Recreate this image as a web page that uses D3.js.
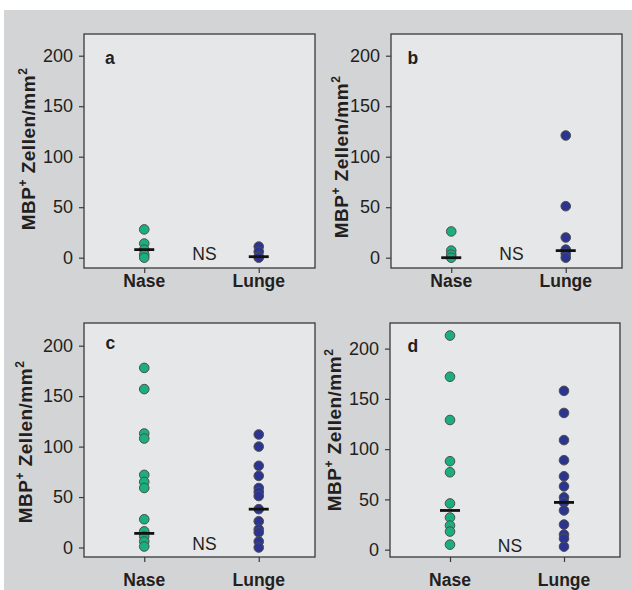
<!DOCTYPE html>
<html>
<head>
<meta charset="utf-8">
<script src="https://cdn.jsdelivr.net/npm/d3@7"></script>
<style>
  body { margin: 0; background: #fff; }
  svg text { font-family: "Liberation Sans", Arial, sans-serif; fill: #231f20; }
</style>
</head>
<body>
<div id="chart"></div>
<script>

// values (MBP+ cells / mm2)
var groups = ["Nase", "Lunge"];
var panelLetters = ["a", "b", "c", "d"];

var naseA = [28, 14, 8, 3, 0];
var lungeA = [11, 6, 1, 0];
var naseB = [26, 7, 3, 0];
var lungeB = [121, 51, 20, 8, 4, 0];
var naseC = [178, 157, 113, 108, 72, 65, 59, 28, 16, 11, 6, 1];
var lungeC = [112, 100, 81, 71, 59, 55, 51, 38, 26, 18, 15, 6, 0];
var naseD = [213, 172, 129, 88, 77, 46, 32, 24, 18, 5];
var lungeD = [158, 136, 109, 89, 73, 63, 52, 47, 39, 25, 15, 11, 3];

// medians as drawn (Nase, Lunge)
var mediansA = [8, 1];
var mediansB = [0, 7];
var mediansC = [14, 38];
var mediansD = [39, 47];

var yTicks = [0, 50, 100, 150, 200];
var sigLabel = "NS";

var colors = { Nase: "#1bb07b", Lunge: "#2b3590" };

// panel frames in page pixels
var layout = [
  { left: 84,  right: 315, top: 34,  bottom: 268, ymin: -10.2, ymax: 221.5, xlabY: 287,   titleX: 35,  titleY: 149, letterX: 105,   letterY: 64 },
  { left: 391, right: 622, top: 34,  bottom: 268, ymin: -10.2, ymax: 221.5, xlabY: 287,   titleX: 348, titleY: 157, letterX: 407.5, letterY: 64 },
  { left: 84,  right: 315, top: 323, bottom: 557, ymin: -9.4,  ymax: 222.5, xlabY: 585.5, titleX: 32,  titleY: 442, letterX: 105.5, letterY: 349 },
  { left: 390, right: 620, top: 323, bottom: 557, ymin: -7.3,  ymax: 225.5, xlabY: 585.5, titleX: 341, titleY: 430, letterX: 407.5, letterY: 352 }
];

var panelData = [
  { Nase: naseA, Lunge: lungeA, med: mediansA },
  { Nase: naseB, Lunge: lungeB, med: mediansB },
  { Nase: naseC, Lunge: lungeC, med: mediansC },
  { Nase: naseD, Lunge: lungeD, med: mediansD }
];

var svg = d3.select("#chart")
  .append("svg")
    .attr("width", 632)
    .attr("height", 590);

// grey card behind everything
svg.append("rect")
  .attr("x", 4)
  .attr("y", 10)
  .attr("width", 628)
  .attr("height", 580)
  .attr("fill", "#d3d4d6");

panelData.forEach(function(pd, i) {
  var L = layout[i];

  var x = d3.scalePoint()
    .domain(groups)
    .range([L.left + 3, L.right + 1])
    .padding(0.5);

  var y = d3.scaleLinear()
    .domain([L.ymin, L.ymax])
    .range([L.bottom, L.top]);

  var g = svg.append("g").attr("class", "panel");

  // plot area
  g.append("rect")
    .attr("x", L.left)
    .attr("y", L.top)
    .attr("width", L.right - L.left)
    .attr("height", L.bottom - L.top)
    .attr("fill", "#e6e7e9")
    .attr("stroke", "#3a3a3c")
    .attr("stroke-width", 1.3);

  // y axis
  var yAxis = g.append("g")
    .attr("transform", "translate(" + L.left + ",0)")
    .call(d3.axisLeft(y).tickValues(yTicks).tickSize(5).tickPadding(6));
  yAxis.select(".domain").remove();
  yAxis.selectAll(".tick line").attr("stroke", "#3a3a3c").attr("stroke-width", 1.2);
  yAxis.selectAll(".tick text")
    .attr("font-size", 18)
    .attr("font-family", "Liberation Sans, Arial, sans-serif")
    .attr("fill", "#231f20");

  // x axis
  var xAxis = g.append("g")
    .attr("transform", "translate(0," + L.bottom + ")")
    .call(d3.axisBottom(x).tickSize(5).tickFormat(""));
  xAxis.select(".domain").remove();
  xAxis.selectAll(".tick line").attr("stroke", "#3a3a3c").attr("stroke-width", 1.2);

  g.selectAll(".xlab")
    .data(groups)
    .enter().append("text")
      .attr("class", "xlab")
      .attr("x", function(d) { return x(d); })
      .attr("y", L.xlabY)
      .attr("text-anchor", "middle")
      .attr("font-size", 17.5)
      .attr("font-weight", "bold")
      .text(function(d) { return d; });

  // y title
  var title = g.append("text")
    .attr("transform", "translate(" + L.titleX + "," + L.titleY + ")rotate(-90)")
    .attr("text-anchor", "middle")
    .attr("font-size", 19)
    .attr("letter-spacing", 0.5)
    .attr("font-weight", "bold");
  title.append("tspan").text("MBP");
  title.append("tspan").attr("font-size", 12).attr("dy", -8).text("+");
  title.append("tspan").attr("dy", 8).text(" Zellen/mm");
  title.append("tspan").attr("font-size", 12).attr("dy", -8).text("2");

  // panel letter
  g.append("text")
    .attr("x", L.letterX)
    .attr("y", L.letterY)
    .attr("font-size", 17.5)
    .attr("font-weight", "bold")
    .text(panelLetters[i]);

  // points
  groups.forEach(function(grp) {
    g.selectAll(".pt-" + grp)
      .data(pd[grp])
      .enter().append("circle")
        .attr("class", "pt-" + grp)
        .attr("cx", x(grp))
        .attr("cy", function(d) { return y(d); })
        .attr("r", 4.8)
        .attr("fill", colors[grp])
        .attr("stroke", "#4d4d4f")
        .attr("stroke-width", 1);
  });

  // median bars
  g.selectAll(".med")
    .data(groups)
    .enter().append("line")
      .attr("class", "med")
      .attr("x1", function(d) { return x(d) - 10; })
      .attr("x2", function(d) { return x(d) + 10; })
      .attr("y1", function(d, k) { return y(pd.med[k]); })
      .attr("y2", function(d, k) { return y(pd.med[k]); })
      .attr("stroke", "#111")
      .attr("stroke-width", 2.8);

  // NS
  g.append("text")
    .attr("x", (x(groups[0]) + x(groups[1])) / 2 + 3)
    .attr("y", y(0) + 2)
    .attr("text-anchor", "middle")
    .attr("font-size", 17.5)
    .text(sigLabel);
});

</script>
</body>
</html>
